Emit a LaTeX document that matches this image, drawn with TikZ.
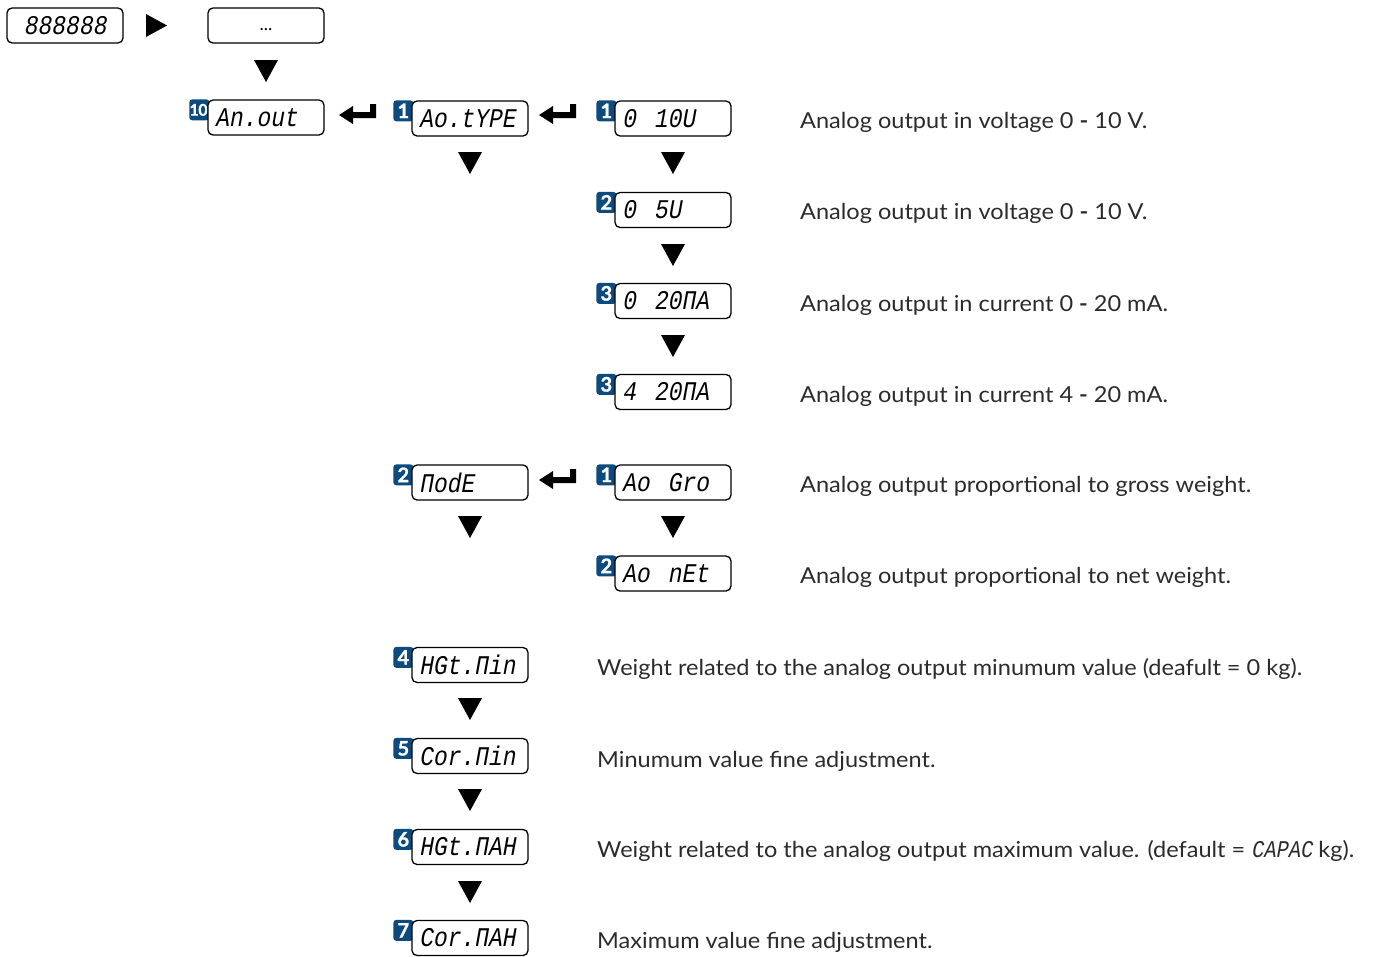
\documentclass[tikz,border=0pt]{standalone}
\usepackage{fontspec}
\setmainfont[FakeStretch=1.07]{Lato}
\newfontfamily\lcd[FakeStretch=0.85,FakeSlant=0.18]{Liberation Mono}
\newfontfamily\badgefont[BoldFeatures={FakeBold=1.2}]{Lato}
\usetikzlibrary{backgrounds}
\definecolor{navy}{HTML}{0D4A7E}
\definecolor{txt}{HTML}{2B2B2B}
\tikzset{
  lcdbox/.style={draw=black, line width=1.3pt, rounded corners=5pt, fill=white,
    minimum width=116pt, minimum height=35pt, text width=102pt, inner xsep=7pt,
    inner ysep=0pt, align=left, font=\lcd\fontsize{27}{27}\selectfont},
  lcdboxc/.style={lcdbox, align=center},
  badge/.style={fill=navy, rounded corners=3pt, minimum width=20pt, minimum height=21pt,
    inner sep=0pt, text=white, font=\badgefont\bfseries\fontsize{20}{20}\selectfont},
  desc/.style={anchor=west, text=txt, inner sep=0pt, font=\fontsize{22}{22}\selectfont},
  tridown/.pic={\fill[black] (-12,-11) -- (12,-11) -- (0,11) -- cycle;},
  triright/.pic={\fill[black] (-10,-11.5) -- (-10,11.5) -- (11,0) -- cycle;},
  retarrow/.pic={\fill[black] (-19,0) -- (-5,-9) -- (-5,-3) -- (12,-3) -- (12,-11) -- (18,-11) -- (18,3) -- (-5,3) -- (-5,9) -- cycle;}
}
\newcommand{\dsh}{\textbf{-}}
\begin{document}
\begin{tikzpicture}[x=1pt,y=-1pt]
\useasboundingbox (0,0) rectangle (1373,956);
% boxes
\node[lcdboxc] (disp) at (65,25.5) {888888};
\node[lcdboxc, font=\fontsize{17}{17}\selectfont] (dots) at (266,25.5) {\raisebox{-5pt}[0pt][0pt]{...}};
\node[lcdbox] (anout) at (266,117.5) {An.out};
\node[lcdbox] (aotype) at (470,118.5) {Ao.tYPE};
\node[lcdbox] (v10) at (673,118.5) {0\ \ 10U};
\node[lcdbox] (v5) at (673,210) {0\ \ 5U};
\node[lcdbox] (ma0) at (673,301) {0\ \ 20ПA};
\node[lcdbox] (ma4) at (673,392) {4\ \ 20ПA};
\node[lcdbox] (mode) at (470,482.5) {ПodE};
\node[lcdbox] (gro) at (673,482.5) {Ao\ \ Gro};
\node[lcdbox] (net) at (673,573.5) {Ao\ \ nEt};
\node[lcdbox] (wmin) at (470,665) {HGt.Пin};
\node[lcdbox] (cmin) at (470,756) {Cor.Пin};
\node[lcdbox] (wmax) at (470,847) {HGt.ПAH};
\node[lcdbox] (cmax) at (470,938) {Cor.ПAH};
% badges
\begin{scope}[on background layer]
\node[badge, font=\badgefont\bfseries\fontsize{16}{16}\selectfont] (b0) at ([xshift=-8pt,yshift=-10.5pt]anout.north west) {\kern-1.5pt1\kern-0.5pt0};
\node[badge] (b1) at ([xshift=-8pt,yshift=-10.5pt]aotype.north west) {1};
\node[badge] (b2) at ([xshift=-8pt,yshift=-10.5pt]v10.north west) {1};
\node[badge] (b3) at ([xshift=-8pt,yshift=-10.5pt]v5.north west) {2};
\node[badge] (b4) at ([xshift=-8pt,yshift=-10.5pt]ma0.north west) {3};
\node[badge] (b5) at ([xshift=-8pt,yshift=-10.5pt]ma4.north west) {3};
\node[badge] (b6) at ([xshift=-8pt,yshift=-10.5pt]mode.north west) {2};
\node[badge] (b7) at ([xshift=-8pt,yshift=-10.5pt]gro.north west) {1};
\node[badge] (b8) at ([xshift=-8pt,yshift=-10.5pt]net.north west) {2};
\node[badge] (b9) at ([xshift=-8pt,yshift=-10.5pt]wmin.north west) {4};
\node[badge] (b10) at ([xshift=-8pt,yshift=-10.5pt]cmin.north west) {5};
\node[badge] (b11) at ([xshift=-8pt,yshift=-10.5pt]wmax.north west) {6};
\node[badge] (b12) at ([xshift=-8pt,yshift=-10.5pt]cmax.north west) {7};
\end{scope}
% arrows
\pic at (156,25.5) {triright};
\pic at (266,71) {tridown};
\pic at (470,163) {tridown};
\pic at (673,163) {tridown};
\pic at (673,255) {tridown};
\pic at (673,346) {tridown};
\pic at (470,527) {tridown};
\pic at (673,527) {tridown};
\pic at (470,709) {tridown};
\pic at (470,800) {tridown};
\pic at (470,892) {tridown};
\pic at (358,115) {retarrow};
\pic at (558,115) {retarrow};
\pic at (558,480) {retarrow};
% descriptions
\node[desc] (d1) at (800,122) {Analog output in voltage 0 \dsh{} 10 V.};
\node[desc] (d2) at (800,213) {Analog output in voltage 0 \dsh{} 10 V.};
\node[desc] (d3) at (800,305) {Analog output in current 0 \dsh{} 20 mA.};
\node[desc] (d4) at (800,396) {Analog output in current 4 \dsh{} 20 mA.};
\node[desc] (d5) at (800,486) {Analog output proportional to gross weight.};
\node[desc] (d6) at (800,577) {Analog output proportional to net weight.};
\node[desc] (d7) at (597,669) {Weight related to the analog output minumum value (deafult = 0 kg).};
\node[desc] (d8) at (597,761) {Minumum value fine adjustment.};
\node[desc] (d9) at (597,851) {Weight related to the analog output maximum value. (default = {\lcd\fontsize{24}{24}\selectfont CAPAC} kg).};
\node[desc] (d10) at (597,942) {Maximum value fine adjustment.};
\end{tikzpicture}
\end{document}
